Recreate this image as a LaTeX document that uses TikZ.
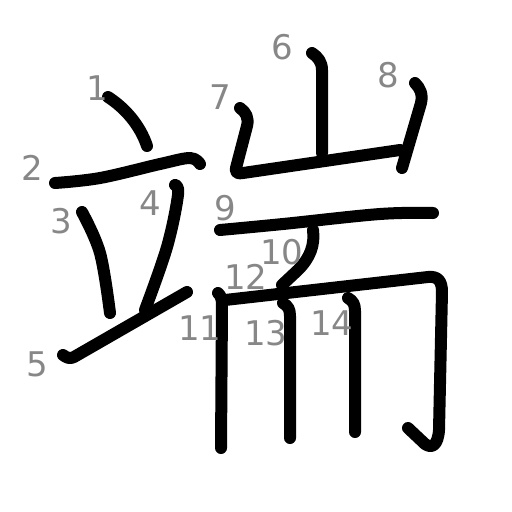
\documentclass[tikz,border=0pt]{standalone}
\usepackage{fontspec}
\setmainfont{DejaVu Sans}
\usetikzlibrary{arrows}

\tikzset{
  stroke/.style={line width=12pt,line cap=round,line join=round},
  num/.style={text=black!47,font=\fontsize{34}{34}\selectfont,inner sep=0pt}
}

\begin{document}
\begin{tikzpicture}[x=1pt,y=-1pt]
\useasboundingbox (0,0) rectangle (512,512);
% strokes
\draw [stroke] (108,97) .. controls (125,108) and (140,125) .. (147,146);
\draw [stroke] plot [smooth,tension=0.6] coordinates {(55,183) (100,178) (160,164) (190,158) (200,164)};
\draw [stroke] plot [smooth,tension=0.6] coordinates {(82,212) (100,253) (110,313)};
\draw [stroke] plot [smooth,tension=0.6] coordinates {(175,185) (178,195) (167,247) (145,310)};
\draw [stroke] (63,355) .. controls (67,358) and (70,359) .. (74,357) -- (187,292);
\draw [stroke] (312,53) .. controls (318,57) and (322,62) .. (322,70) -- (322,153);
\draw [stroke] (240,108) .. controls (246,112) and (249,118) .. (247,126) -- (236,168) .. controls (235,173) and (238,174) .. (243,173) -- (400,150);
\draw [stroke] (415,83) .. controls (420,88) and (423,94) .. (421,103) -- (402,168);
\draw [stroke] plot [smooth,tension=0.6] coordinates {(220,230) (283,224) (380,214) (433,213)};
\draw [stroke] (313,230) .. controls (315,245) and (310,258) .. (298,270) -- (282,285);
\draw [stroke] (218,293) .. controls (221,296) and (222,299) .. (222,305) -- (221,448);
\draw [stroke] (225,300) -- (428,277) .. controls (438,276) and (442,281) .. (442,292) -- (439,430) .. controls (438,445) and (432,449) .. (425,444) -- (408,428);
\draw [stroke] (283,303) .. controls (288,306) and (290,309) .. (290,316) -- (290,438);
\draw [stroke] (348,298) .. controls (353,301) and (355,304) .. (355,311) -- (355,432);
% numbers
\node (n1) at (97,88) [num] {1};
\node (n2) at (32,168) [num] {2};
\node (n3) at (61,221) [num] {3};
\node (n4) at (150,203) [num] {4};
\node (n5) at (37,364) [num] {5};
\node (n6) at (282,47) [num] {6};
\node (n7) at (220,97) [num] {7};
\node (n8) at (388,75) [num] {8};
\node (n9) at (225,208) [num] {9};
\node (n10) at (282,252) [num] {10};
\node (n11) at (200,328) [num] {11};
\node (n12) at (246,277) [num] {12};
\node (n13) at (266,333) [num] {13};
\node (n14) at (332,323) [num] {14};
\end{tikzpicture}
\end{document}
